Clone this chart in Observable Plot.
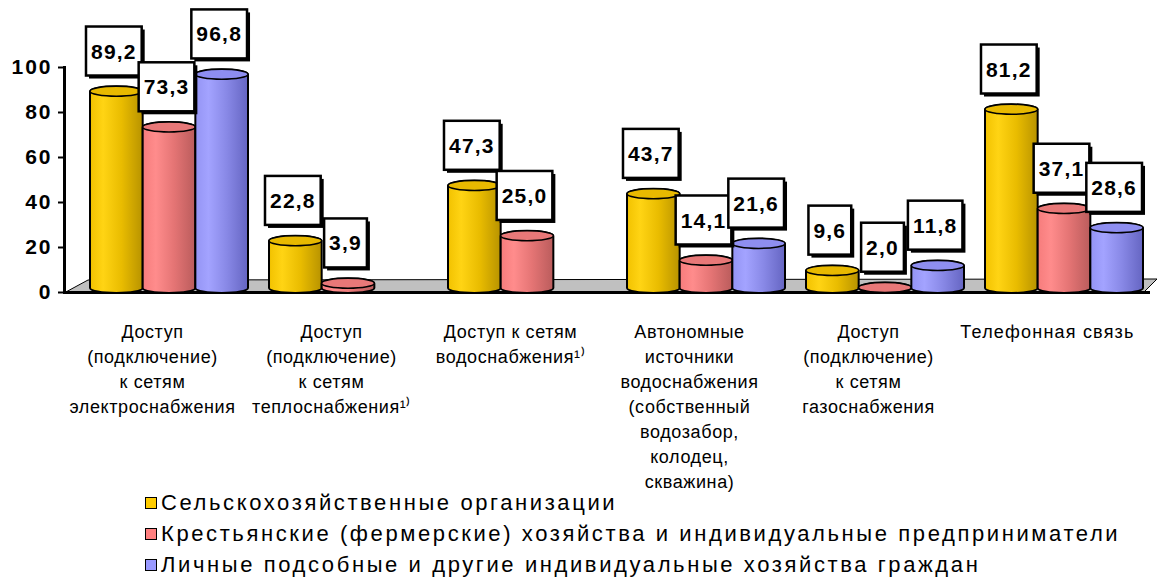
<!DOCTYPE html>
<html>
<head>
<meta charset="utf-8">
<script src="https://cdn.jsdelivr.net/npm/d3@7"></script>
<script src="https://cdn.jsdelivr.net/npm/@observablehq/plot@0.6"></script>
<style>
  html, body { margin: 0; padding: 0; background: #fff; }
  body { width: 1157px; height: 581px; overflow: hidden; font-family: Arial, "Liberation Sans", sans-serif; }
  svg text { letter-spacing: 1.2px; }
  svg text.multi { letter-spacing: 0.6px; }
  g[aria-label="y-axis tick label"] text { letter-spacing: 2px; }
  #legend { margin-top: -3px; padding-left: 145px; font-size: 22px; letter-spacing: 2.6px; color: #000; }
  #legend .item { height: 31px; line-height: 31px; display: flex; align-items: center; white-space: nowrap; }
  #legend .sw { width: 10px; height: 10px; border: 1.5px solid #000; margin-right: 4px; flex: none; }
</style>
</head>
<body>
<div id="chart"></div>
<div id="legend"></div>
<script>
// ---- data ----
const categories = [
  "Доступ\n(подключение)\nк сетям\nэлектроснабжения",
  "Доступ\n(подключение)\nк сетям\nтеплоснабжения¹⁾",
  "Доступ к сетям\nводоснабжения¹⁾",
  "Автономные\nисточники\nводоснабжения\n(собственный\nводозабор,\nколодец,\nскважина)",
  "Доступ\n(подключение)\nк сетям\nгазоснабжения",
  "Телефонная связь"
];
const seriesNames = [
  "Сельскохозяйственные организации",
  "Крестьянские (фермерские) хозяйства и индивидуальные предприниматели",
  "Личные подсобные и другие индивидуальные хозяйства граждан"
];
const agriOrgs   = [89.2, 22.8, 47.3, 43.7, 9.6, 81.2];
const farms      = [73.3, 3.9, 25.0, 14.1, 2.0, 37.1];
const households = [96.8, null, null, 21.6, 11.8, 28.6];
const yTicks = [0, 20, 40, 60, 80, 100];

// ---- styling ----
const swatch = ["#FFCC00", "#FF8080", "#9999FF"];
const bodyStops = [
  ["#F2C200", "#FFD414", "#E9BC00", "#B89300"],
  ["#F67C7C", "#FF8C8C", "#E47474", "#BA5C5C"],
  ["#9494F4", "#A3A3FF", "#8888E6", "#6565C2"]
];
const capFill = ["#E8B900", "#E87878", "#8E8EF0"];

const W = 1157, H = 490, mL = 64, mR = 7, mT = 67, mB = 198;
const pIn = 0.1173, pOut = 0.0922, align = 0.788;
const FONT = "Arial, 'Liberation Sans', sans-serif";

const rows = categories.flatMap((c, i) =>
  [agriOrgs[i], farms[i], households[i]].map((v, s) => ({category: c, series: s, value: v}))
).filter(d => d.value != null);

const band = d3.scaleBand().domain(categories).range([mL, W - mR])
  .paddingInner(pIn).paddingOuter(pOut).align(align);
const w = band.bandwidth() / 3;
const fmt = v => v.toFixed(1).replace(".", ",");

const marks = [];
for (let s = 0; s < 3; s++) {
  const data = rows.filter(d => d.series === s);
  marks.push(Plot.barY(data, {
    x: "category", y1: 0, y2: "value",
    insetLeft: s * w, insetRight: (2 - s) * w, insetTop: -5, insetBottom: -1,
    rx: 40, ry: 5, fill: `url(#body${s})`, stroke: "#000", strokeWidth: 2
  }));
  marks.push(Plot.barY(data, {
    x: "category", y1: "value", y2: "value",
    insetLeft: s * w, insetRight: (2 - s) * w, insetTop: -5, insetBottom: -5,
    rx: 40, ry: 5, fill: capFill[s], stroke: "#000", strokeWidth: 1.5
  }));
}
for (let s = 0; s < 3; s++) {
  marks.push(Plot.text(rows.filter(d => d.series === s), {
    x: "category", y: "value", text: d => fmt(d.value),
    dx: (s - 1) * w - 3, dy: -40, fontSize: 21, fontWeight: "bold", fill: "#000"
  }));
}

const chart = Plot.plot({
  width: W, height: H,
  marginLeft: mL, marginRight: mR, marginTop: mT, marginBottom: mB,
  style: {fontFamily: FONT, background: "transparent", overflow: "visible", color: "#000"},
  x: {domain: categories, paddingInner: pIn, paddingOuter: pOut, align, round: false, axis: null},
  y: {domain: [0, 100], axis: null},
  marks: [
    Plot.ruleY([0], {stroke: "#000", strokeWidth: 3}),
    Plot.frame({anchor: "left", stroke: "#000", strokeWidth: 3}),
    Plot.axisY({ticks: yTicks, tickSize: 6, tickPadding: 6, fontSize: 21, fontWeight: "bold", strokeWidth: 2, label: null, tickFormat: d => String(d)}),
    ...marks,
    Plot.text(categories, {
      x: d => d, frameAnchor: "bottom", lineAnchor: "top", dy: 28, dx: -17,
      fontSize: 18, lineHeight: 1.39, fill: "#000"
    })
  ]
});
document.getElementById("chart").append(chart);

// multi-line category labels slightly tighter
chart.querySelectorAll("text").forEach(t => {
  if (t.querySelector("tspan")) t.classList.add("multi");
});

// gradients
const ns = "http://www.w3.org/2000/svg";
const defs = document.createElementNS(ns, "defs");
bodyStops.forEach((stops, s) => {
  const g = document.createElementNS(ns, "linearGradient");
  g.setAttribute("id", `body${s}`);
  g.setAttribute("x1", "0"); g.setAttribute("x2", "1"); g.setAttribute("y1", "0"); g.setAttribute("y2", "0");
  [0, 0.25, 0.6, 1].forEach((o, k) => {
    const st = document.createElementNS(ns, "stop");
    st.setAttribute("offset", o);
    st.setAttribute("stop-color", stops[k]);
    g.append(st);
  });
  defs.append(g);
});
chart.insertBefore(defs, chart.firstChild);

// floor (derived from scales)
const ys = chart.scale("y"), xs = chart.scale("x");
const y0 = ys.apply(0);
const [xl, xr] = xs.range;
const floor = document.createElementNS(ns, "polygon");
floor.setAttribute("points", `${xl},${y0 + 1} ${xl + 24},${y0 - 12} ${W},${y0 - 13} ${xr - 7},${y0 + 1}`);
floor.setAttribute("fill", "#C0C0C0");
floor.setAttribute("stroke", "#000");
floor.setAttribute("stroke-width", "1");
const firstG = chart.querySelector("g");
chart.insertBefore(floor, firstG);

// label boxes
chart.querySelectorAll("text").forEach(t => {
  if (!/^\d+,\d$/.test(t.textContent)) return;
  const bb = t.getBBox();
  const tr = t.getAttribute("transform");
  const padX = 5, padY = 13;
  const mk = (dx, fill, stroke) => {
    const r = document.createElementNS(ns, "rect");
    r.setAttribute("x", bb.x - padX + dx);
    r.setAttribute("y", bb.y - padY + dx);
    r.setAttribute("width", bb.width + 2 * padX);
    r.setAttribute("height", bb.height + 2 * padY);
    r.setAttribute("fill", fill);
    if (stroke) { r.setAttribute("stroke", stroke); r.setAttribute("stroke-width", "2.5"); }
    if (tr) r.setAttribute("transform", tr);
    return r;
  };
  t.parentNode.insertBefore(mk(3, "#000"), t);
  t.parentNode.insertBefore(mk(0, "#fff", "#000"), t);
});

// legend
const lg = document.getElementById("legend");
seriesNames.forEach((n, i) => {
  const it = document.createElement("div");
  it.className = "item";
  const sw = document.createElement("span");
  sw.className = "sw"; sw.style.background = swatch[i];
  const tx = document.createElement("span");
  tx.textContent = n;
  it.append(sw, tx);
  lg.append(it);
});
</script>
</body>
</html>
